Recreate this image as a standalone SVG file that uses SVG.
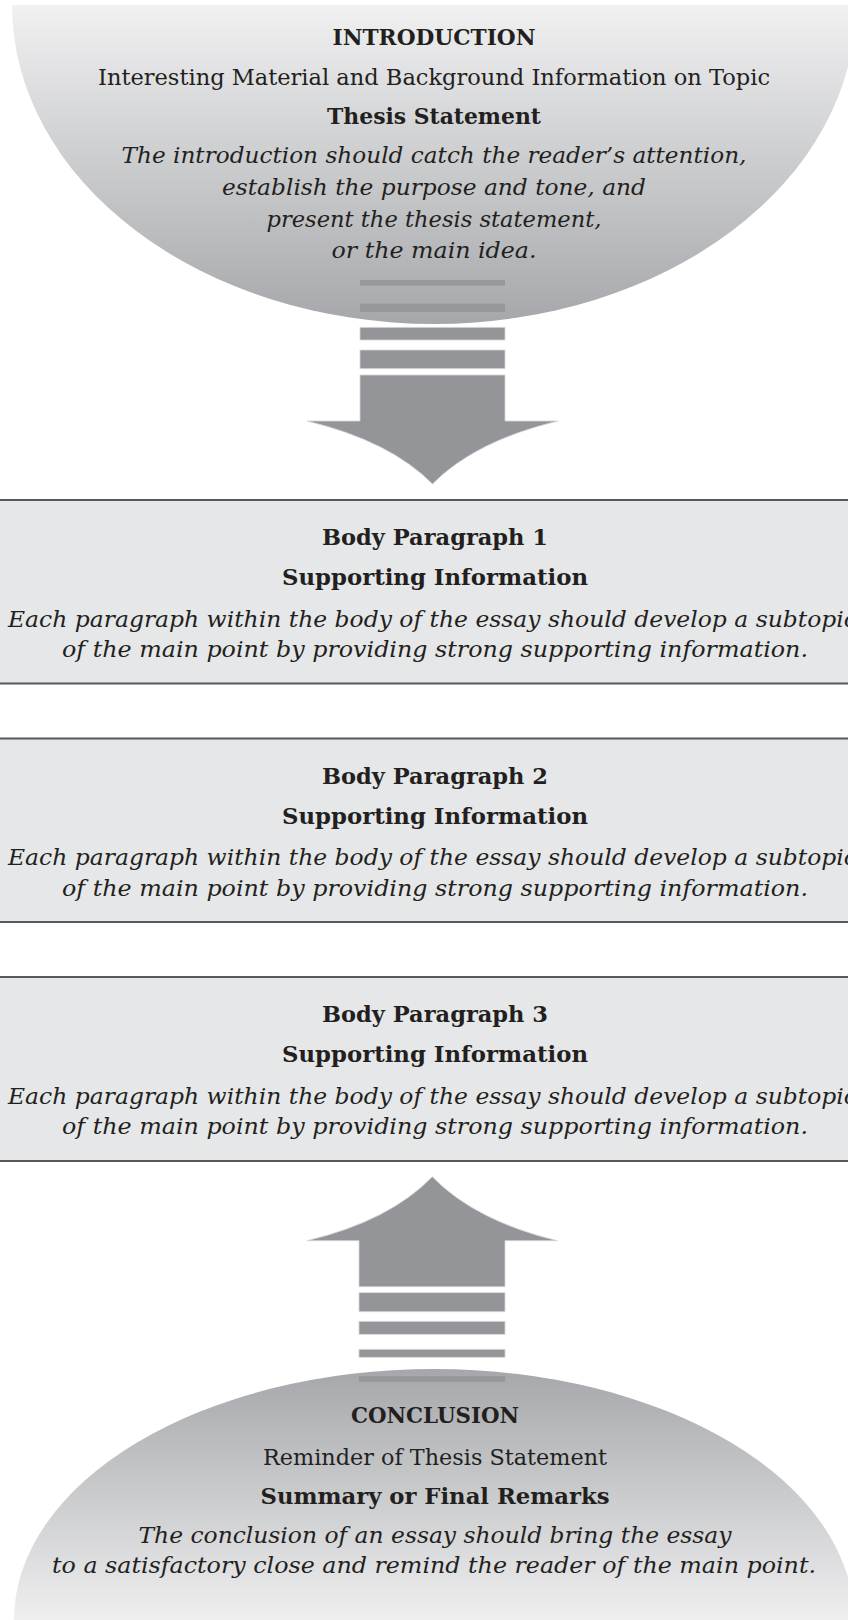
<svg xmlns="http://www.w3.org/2000/svg" width="848" height="1620" viewBox="0 0 848 1620">
<defs>
  <linearGradient id="gTop" gradientUnits="userSpaceOnUse" x1="0" y1="5" x2="0" y2="324">
    <stop offset="0" stop-color="#f1f1f2"/>
    <stop offset="1" stop-color="#a5a7aa"/>
  </linearGradient>
  <linearGradient id="gBot" gradientUnits="userSpaceOnUse" x1="0" y1="1369" x2="0" y2="1620">
    <stop offset="0" stop-color="#a5a7aa"/>
    <stop offset="1" stop-color="#efeff0"/>
  </linearGradient>
</defs>
<style>
  .t{font-family:"DejaVu Serif","Liberation Serif",serif;fill:#231f20;text-anchor:middle;font-size:22px}
  .b{font-weight:bold}
  .i{font-style:italic;font-size:23px}
  .box{fill:#e6e7e8}
  .rule{stroke:#58595b;stroke-width:1.8;fill:none}
  .arrow{fill:#939598;stroke:#d6d7d9;stroke-width:0.8}
  .inner{fill:#939598;opacity:0.85}
</style>

<g id="introduction">
  <path d="M12 5 A422 319 0 0 0 856 5 Z" fill="url(#gTop)"/>
  <text class="t b" x="434" y="45" textLength="203" lengthAdjust="spacingAndGlyphs">INTRODUCTION</text>
  <text class="t" x="434" y="85" textLength="672" lengthAdjust="spacingAndGlyphs">Interesting Material and Background Information on Topic</text>
  <text class="t b" x="434" y="124" textLength="214" lengthAdjust="spacingAndGlyphs">Thesis Statement</text>
  <text class="t i" x="434" y="163" textLength="625" lengthAdjust="spacingAndGlyphs">The introduction should catch the reader’s attention,</text>
  <text class="t i" x="434" y="195" textLength="424" lengthAdjust="spacingAndGlyphs">establish the purpose and tone, and</text>
  <text class="t i" x="434" y="226.5" textLength="335" lengthAdjust="spacingAndGlyphs">present the thesis statement,</text>
  <text class="t i" x="434" y="258" textLength="205" lengthAdjust="spacingAndGlyphs">or the main idea.</text>
</g>

<g id="body1">
  <rect class="box" x="0" y="500" width="848" height="183.5"/>
  <line class="rule" x1="0" y1="500" x2="848" y2="500"/>
  <line class="rule" x1="0" y1="683.5" x2="848" y2="683.5"/>
  <text class="t b" x="435" y="545" textLength="226" lengthAdjust="spacingAndGlyphs">Body Paragraph 1</text>
  <text class="t b" x="435" y="585" textLength="306" lengthAdjust="spacingAndGlyphs">Supporting Information</text>
  <text class="t i" x="8" y="626.5" style="text-anchor:start" textLength="849" lengthAdjust="spacingAndGlyphs">Each paragraph within the body of the essay should develop a subtopic</text>
  <text class="t i" x="435" y="657" textLength="746" lengthAdjust="spacingAndGlyphs">of the main point by providing strong supporting information.</text>
</g>

<g id="body2">
  <rect class="box" x="0" y="738.5" width="848" height="183.5"/>
  <line class="rule" x1="0" y1="738.5" x2="848" y2="738.5"/>
  <line class="rule" x1="0" y1="922" x2="848" y2="922"/>
  <text class="t b" x="435" y="783.5" textLength="226" lengthAdjust="spacingAndGlyphs">Body Paragraph 2</text>
  <text class="t b" x="435" y="823.5" textLength="306" lengthAdjust="spacingAndGlyphs">Supporting Information</text>
  <text class="t i" x="8" y="865" style="text-anchor:start" textLength="849" lengthAdjust="spacingAndGlyphs">Each paragraph within the body of the essay should develop a subtopic</text>
  <text class="t i" x="435" y="895.5" textLength="746" lengthAdjust="spacingAndGlyphs">of the main point by providing strong supporting information.</text>
</g>

<g id="body3">
  <rect class="box" x="0" y="977" width="848" height="184"/>
  <line class="rule" x1="0" y1="977" x2="848" y2="977"/>
  <line class="rule" x1="0" y1="1161" x2="848" y2="1161"/>
  <text class="t b" x="435" y="1022" textLength="226" lengthAdjust="spacingAndGlyphs">Body Paragraph 3</text>
  <text class="t b" x="435" y="1062" textLength="306" lengthAdjust="spacingAndGlyphs">Supporting Information</text>
  <text class="t i" x="8" y="1103.5" style="text-anchor:start" textLength="849" lengthAdjust="spacingAndGlyphs">Each paragraph within the body of the essay should develop a subtopic</text>
  <text class="t i" x="435" y="1134" textLength="746" lengthAdjust="spacingAndGlyphs">of the main point by providing strong supporting information.</text>
</g>

<g id="conclusion">
  <ellipse cx="434" cy="1620" rx="420" ry="251" fill="url(#gBot)"/>
  <text class="t b" x="435" y="1423" textLength="168" lengthAdjust="spacingAndGlyphs">CONCLUSION</text>
  <text class="t" x="435" y="1465" textLength="344" lengthAdjust="spacingAndGlyphs">Reminder of Thesis Statement</text>
  <text class="t b" x="435" y="1503.5" textLength="349" lengthAdjust="spacingAndGlyphs">Summary or Final Remarks</text>
  <text class="t i" x="435" y="1543" textLength="593" lengthAdjust="spacingAndGlyphs">The conclusion of an essay should bring the essay</text>
  <text class="t i" x="434" y="1573" textLength="764" lengthAdjust="spacingAndGlyphs">to a satisfactory close and remind the reader of the main point.</text>
</g>

<g id="connectors">
  <g id="arrow-down">
    <rect class="inner" x="360" y="280" width="145" height="5.7"/>
    <rect class="inner" x="360" y="303.7" width="145" height="8.3"/>
    <rect class="arrow" x="360" y="327.3" width="145" height="12.7"/>
    <rect class="arrow" x="360" y="350" width="145" height="18.7"/>
    <path class="arrow" d="M360 375 H505 V421 H558 Q475 441 432.5 484 Q390 441 307 421 H360 Z"/>
  </g>
  <g id="arrow-up">
    <path class="arrow" d="M359 1286.7 H505 V1240.7 H557.5 Q475 1220.7 432.3 1176.7 Q390 1220.7 307 1240.7 H359 Z"/>
    <rect class="arrow" x="359" y="1292.7" width="146" height="19"/>
    <rect class="arrow" x="359" y="1321.3" width="146" height="13"/>
    <rect class="arrow" x="359" y="1349.3" width="146" height="8"/>
    <rect class="inner" x="359" y="1376" width="146" height="5.7"/>
  </g>
</g>
</svg>
